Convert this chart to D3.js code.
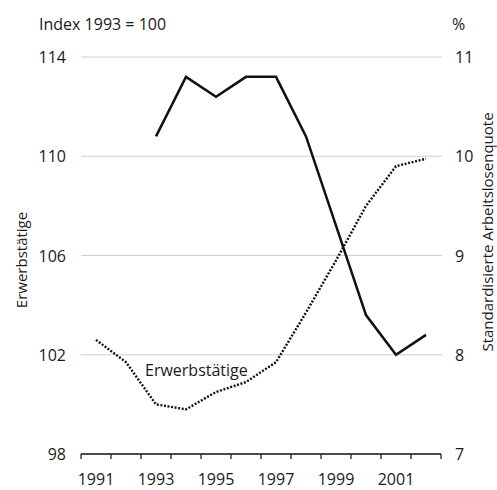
<!DOCTYPE html>
<html><head><meta charset="utf-8">
<script src="https://cdn.jsdelivr.net/npm/d3@7"></script>
<style>
body{margin:0;background:#fff;}
text{font-family:"Open Sans",sans-serif;fill:#1a1a1a;}
</style></head>
<body><svg id="c" width="497" height="490"></svg>
<script>
const years = ["1991","1992","1993","1994","1995","1996","1997","1998","1999","2000","2001","2002"];
const erwerbstaetige = [102.6,101.7,100.0,99.8,100.5,100.9,101.7,103.7,105.8,108.0,109.6,109.9];
const arbeitslosenquote = [null,null,10.2,10.8,10.6,10.8,10.8,10.2,9.3,8.4,8.0,8.2];
const leftTicks = [98,102,106,110,114];
const rightTicks = [7,8,9,10,11];
const tickYears = ["1991","1993","1995","1997","1999","2001"];

const svg = d3.select("#c");
const x = d3.scaleBand().domain(years).range([81,441]);
const yL = d3.scaleLinear().domain([98,114]).range([454,57]);
const yR = d3.scaleLinear().domain([7,11]).range([454,57]);
const cx = d => x(d) + x.bandwidth()/2;

// gridlines
svg.append("g").selectAll("line").data(leftTicks.filter(d=>d>98)).join("line")
  .attr("x1",81).attr("x2",442).attr("y1",d=>yL(d)).attr("y2",d=>yL(d))
  .attr("stroke","#cfcfcf").attr("stroke-width",1);

// x axis
const xa = svg.append("g").attr("transform","translate(0,454)");
xa.append("line").attr("x1",81).attr("x2",441).attr("stroke","#111").attr("stroke-width",1.3);
xa.selectAll("line.t").data(years.concat(["end"])).join("line").attr("class","t")
  .attr("x1",(d,i)=>81+i*x.bandwidth()).attr("x2",(d,i)=>81+i*x.bandwidth())
  .attr("y1",0).attr("y2",5).attr("stroke","#111").attr("stroke-width",1.2);
xa.selectAll("text").data(tickYears).join("text")
  .attr("x",d=>cx(d)).attr("y",30.5).attr("text-anchor","middle")
  .attr("font-size",16).text(d=>d);

// left ticks
svg.append("g").selectAll("text").data(leftTicks).join("text")
  .attr("x",66).attr("y",d=>yL(d)+6).attr("text-anchor","end")
  .attr("font-size",16).text(d=>d);
// right ticks
svg.append("g").selectAll("text").data(rightTicks).join("text")
  .attr("x",455).attr("y",d=>yR(d)+6).attr("text-anchor","start")
  .attr("font-size",16).text(d=>d);

// titles
svg.append("text").attr("x",39).attr("y",30).attr("font-size",16).text("Index 1993 = 100");
svg.append("text").attr("x",452).attr("y",30).attr("font-size",16).text("%");
svg.append("text").attr("transform","translate(27,260) rotate(-90)").attr("text-anchor","middle")
  .attr("font-size",15).text("Erwerbstätige");
svg.append("text").attr("transform","translate(493,232) rotate(-90)").attr("text-anchor","middle")
  .attr("font-size",15).text("Standardisierte Arbeitslosenquote");

// lines
const lineL = d3.line().x((d,i)=>cx(years[i])).y(d=>yL(d));
svg.append("path").datum(erwerbstaetige).attr("d",lineL)
  .attr("fill","none").attr("stroke","#111").attr("stroke-width",2.4)
  .attr("stroke-dasharray","2,1.6");
const lineR = d3.line().defined(d=>d!=null).x((d,i)=>cx(years[i])).y(d=>yR(d));
svg.append("path").datum(arbeitslosenquote).attr("d",lineR)
  .attr("fill","none").attr("stroke","#111").attr("stroke-width",2.5).attr("stroke-linejoin","miter");

// inline label
svg.append("text").attr("x",x("1993")+4).attr("y",yL(101.14)).attr("font-size",16).text("Erwerbstätige");
</script></body></html>
